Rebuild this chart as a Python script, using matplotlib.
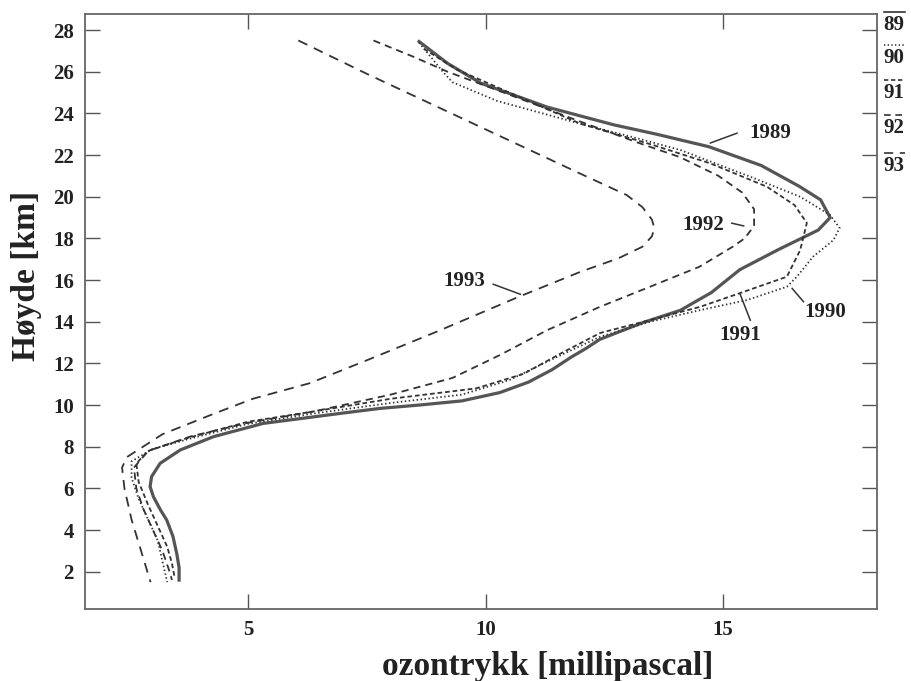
import matplotlib.pyplot as plt
from matplotlib.lines import Line2D

plt.rcParams['font.family'] = ['Liberation Serif', 'DejaVu Serif']
plt.rcParams['font.weight'] = 'bold'
plt.rcParams['axes.labelweight'] = 'bold'

# ozone partial pressure [mPa] vs altitude [km], one sounding profile per year
x89 = [8.6, 9.2, 9.9, 11.3, 12.7, 13.6, 14.7, 15.8, 16.6, 17.05, 17.25, 17.0, 16.15,
       15.35, 14.75, 14.1, 13.3, 12.4, 12.1, 11.8, 11.4, 10.9, 10.3, 9.5, 8.6, 7.78,
       6.94, 6.1, 5.32, 4.27, 3.57, 3.15, 2.97, 2.94, 3.01, 3.15, 3.29, 3.42, 3.5, 3.55, 3.55]
h89 = [27.45, 26.4, 25.45, 24.3, 23.45, 23.0, 22.4, 21.5, 20.5, 19.85, 19.0, 18.4, 17.45,
       16.5, 15.4, 14.55, 13.95, 13.15, 12.7, 12.3, 11.7, 11.1, 10.6, 10.2, 10.0, 9.84,
       9.6, 9.35, 9.12, 8.48, 7.84, 7.2, 6.56, 6.08, 5.6, 5.0, 4.48, 3.7, 2.88, 2.2, 1.6]

x90 = [8.6, 9.1, 9.3, 10.24, 12.0, 13.2, 14.1, 15.57, 16.62, 17.25, 17.45, 17.32, 16.89,
       16.55, 16.34, 15.5, 14.52, 13.46, 12.41, 11.4, 10.5, 9.5, 8.0, 6.4, 5.0, 3.8,
       3.0, 2.55, 2.55, 2.7, 2.9, 3.1, 3.2, 3.3]
h90 = [27.4, 26.0, 25.5, 24.6, 23.5, 22.8, 22.24, 20.96, 20.0, 19.12, 18.5, 17.92, 17.12,
       16.16, 15.68, 15.04, 14.56, 14.0, 13.28, 12.2, 11.2, 10.5, 10.1, 9.6, 9.1, 8.4,
       7.9, 7.3, 6.5, 5.5, 4.5, 3.5, 2.5, 1.5]

x91 = [8.7, 9.4, 10.5, 12.0, 13.5, 14.73, 15.92, 16.5, 16.76, 16.62, 16.34, 15.36, 14.52,
       13.46, 12.41, 11.6, 10.8, 9.8, 8.0, 6.4, 5.0, 3.7, 2.9, 2.65, 2.7, 2.9, 3.1, 3.3,
       3.4, 3.45]
h91 = [27.1, 26.1, 25.0, 23.5, 22.5, 21.6, 20.48, 19.6, 18.74, 17.44, 16.16, 15.38, 14.72,
       14.08, 13.46, 12.5, 11.5, 10.8, 10.3, 9.7, 9.2, 8.4, 7.8, 7.2, 6.3, 5.2, 4.2, 3.2,
       2.4, 1.8]

x92 = [7.64, 8.47, 9.2, 10.5, 12.0, 13.2, 14.09, 14.9, 15.4, 15.65, 15.65, 15.45, 15.2,
       14.5, 13.46, 12.41, 11.3, 10.3, 9.3, 8.0, 6.4, 5.0, 3.8, 2.9, 2.6, 2.65, 2.8, 3.0,
       3.2, 3.35, 3.4]
h92 = [27.5, 26.73, 26.0, 24.9, 23.6, 22.6, 21.9, 21.0, 20.2, 19.4, 18.6, 18.0, 17.6,
       16.64, 15.68, 14.72, 13.6, 12.4, 11.3, 10.5, 9.7, 9.15, 8.5, 7.8, 7.0, 6.0, 5.0, 4.0,
       3.0, 2.0, 1.6]

x93 = [6.06, 7.5, 9.0, 10.5, 12.0, 12.97, 13.3, 13.5, 13.55, 13.5, 13.3, 12.8, 12.0, 10.7,
       9.0, 7.5, 6.3, 5.1, 4.3, 3.2, 2.45, 2.35, 2.4, 2.55, 2.75, 2.95]
h93 = [27.5, 25.9, 24.3, 22.7, 21.1, 20.08, 19.5, 18.9, 18.5, 18.1, 17.6, 17.05, 16.4, 15.2,
       13.55, 12.15, 11.05, 10.3, 9.6, 8.6, 7.5, 7.0, 6.0, 4.5, 3.0, 1.5]

years = ['89', '90', '91', '92', '93']

col = '#333333'
styles = {
    '89': dict(linestyle='-', linewidth=2.3, color='#555555'),
    '90': dict(linestyle=(0, (0.8, 1.4)), linewidth=1.3, color=col),
    '91': dict(linestyle=(0, (2.6, 1.6)), linewidth=1.3, color=col),
    '92': dict(linestyle=(0, (4.0, 2.8)), linewidth=1.3, color=col),
    '93': dict(linestyle=(0, (5.5, 4.0)), linewidth=1.3, color=col),
}

fig = plt.figure(figsize=(9.12, 6.81), dpi=100)
ax = fig.add_axes([0.0932, 0.1057, 0.8681, 0.8737])

for yr, xs, hs in zip(years, [x89, x90, x91, x92, x93], [h89, h90, h91, h92, h93]):
    ax.plot(xs, hs, **styles[yr])

ax.set_xlim(1.57, 18.23)
ax.set_ylim(0.21, 28.77)
ax.set_xticks([5, 10, 15])
ax.set_yticks(range(2, 29, 2))
ax.tick_params(direction='in', length=11, width=1.0, color='#555555',
               top=True, right=True, labelsize=15, pad=8, labelcolor='#222222')
for s in ax.spines.values():
    s.set_color('#666666')
    s.set_linewidth(1.3)

ax.set_xlabel('ozontrykk [millipascal]', fontsize=24, color='#222222', va='center')
ax.xaxis.set_label_coords(0.585, -0.097)
ax.set_ylabel('Høyde [km]', fontsize=24, color='#222222', va='center')
ax.yaxis.set_label_coords(-0.074, 0.56)

# year labels with leader lines
lab = dict(fontsize=15, color='#222222', ha='center', va='center')
ax.text(15.99, 23.06, '1989', **lab)
ax.plot([14.73, 15.29], [22.58, 23.05], color=col, lw=1.1)
ax.text(14.58, 18.64, '1992', **lab)
ax.plot([15.18, 15.43], [18.73, 18.6], color=col, lw=1.1)
ax.text(17.15, 14.48, '1990', **lab)
ax.plot([16.45, 16.69], [15.6, 14.96], color=col, lw=1.1)
ax.text(15.36, 13.36, '1991', **lab)
ax.plot([15.36, 15.57], [15.3, 14.07], color=col, lw=1.1)
ax.text(9.55, 15.95, '1993', **lab)
ax.plot([10.16, 10.73], [15.8, 15.32], color=col, lw=1.1)

# key at the right edge: line sample above each short year
key_y = [0.982, 0.934, 0.883, 0.831, 0.775]
for yr, ky in zip(years, key_y):
    st = dict(styles[yr])
    st['linewidth'] = 1.2
    st['color'] = col
    fig.add_artist(Line2D([0.969, 0.992], [ky, ky], transform=fig.transFigure, **st))
    fig.text(0.9805, ky - 0.0045, yr, ha='center', va='top', fontsize=15, color='#222222')

fig.savefig('out.png', dpi=100)
